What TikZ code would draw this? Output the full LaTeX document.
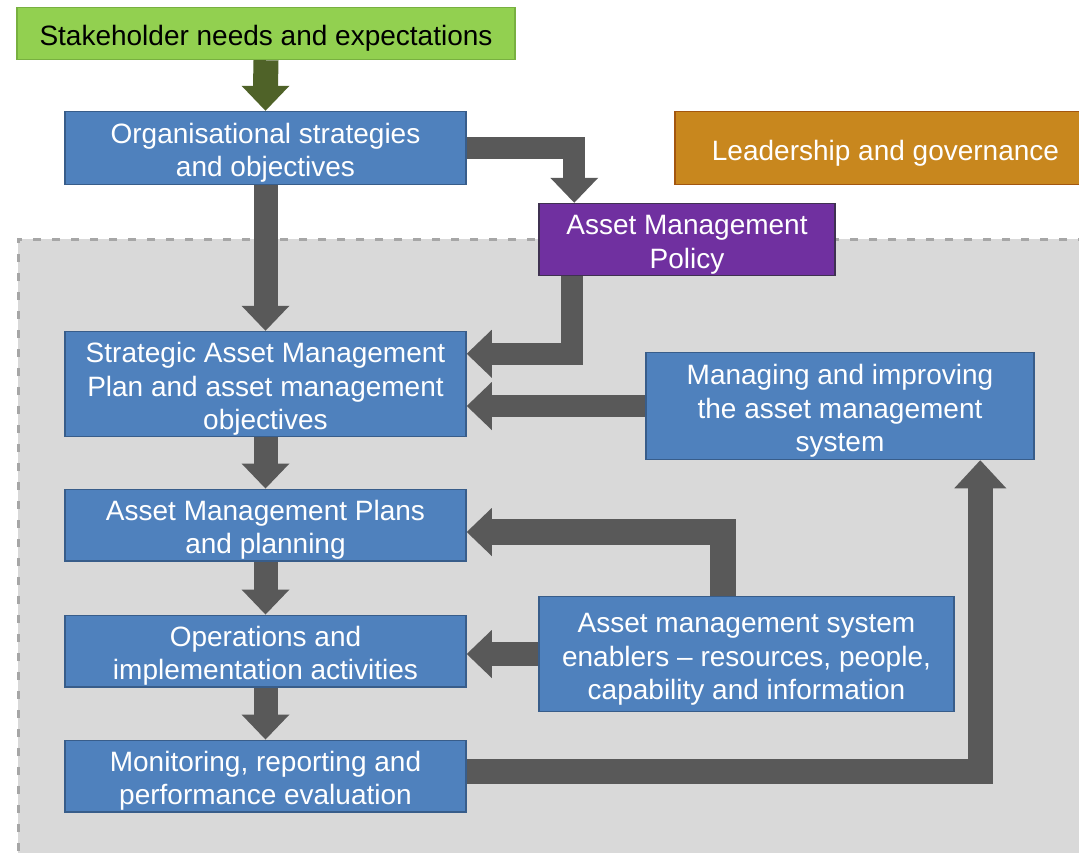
\documentclass[tikz,border=0pt]{standalone}
\usepackage{fontspec}
\setmainfont{Liberation Sans}
\usetikzlibrary{calc}
\definecolor{grfill}{HTML}{92D050}
\definecolor{grline}{HTML}{78B040}
\definecolor{blfill}{HTML}{4F81BD}
\definecolor{blline}{HTML}{385D8A}
\definecolor{orfill}{HTML}{C8871E}
\definecolor{orline}{HTML}{A3560F}
\definecolor{pufill}{HTML}{7030A0}
\definecolor{puline}{HTML}{3F3151}
\definecolor{arcol}{HTML}{595959}
\definecolor{garcol}{HTML}{4F6228}
\definecolor{bgfill}{HTML}{D9D9D9}
\definecolor{bgline}{HTML}{A6A6A6}
\pgfdeclarelayer{bg}
\pgfsetlayers{bg,main}
\newcommand\mystrut{\rule[-7pt]{0pt}{38pt}}
\newcommand\hdD[2][arcol]{\fill[#1] (#2) -- ++(-24,-25) -- ++(48,0) -- cycle;}
\newcommand\hdL[2][arcol]{\fill[#1] (#2) -- ++(25,-24) -- ++(0,48) -- cycle;}
\newcommand\hdU[2][arcol]{\fill[#1] (#2) -- ++(-26,28) -- ++(52,0) -- cycle;}
\begin{document}
\begin{tikzpicture}[x=1pt,y=-1pt,
  box/.style={draw, line width=1.5pt, inner sep=0pt, align=center,
    font=\fontsize{28}{33.5}\selectfont, text=white,
    execute at end node=\mystrut},
  bluebox/.style={box, fill=blfill, draw=blline},
  shaft/.style={draw=arcol, line width=24pt, line cap=butt, line join=miter},
  nshaft/.style={shaft, line width=22pt},
  gshaft/.style={shaft, draw=garcol, line width=25pt}]
\useasboundingbox (0,0) rectangle (1079,852);

\node[box, fill=grfill, draw=grline, text=black, minimum width=498pt, minimum height=52pt] (stake) at (266,33.5) {\mystrut Stakeholder needs and expectations};
\node[bluebox, minimum width=401pt, minimum height=73pt] (org) at (265.5,148) {\mystrut Organisational strategies\\and objectives};
\node[box, fill=orfill, draw=orline, minimum width=421pt, minimum height=73pt] (lead) at (885.5,148) {\mystrut Leadership and governance};
\node[box, fill=pufill, draw=puline, minimum width=296pt, minimum height=72pt] (pol) at (687,239.5) {\mystrut Asset Management\\Policy};
\node[bluebox, minimum width=401pt, minimum height=103pt] (sam) at (265.5,384) {\mystrut Strategic Asset Management\\Plan and asset management\\objectives};
\node[bluebox, minimum width=388pt, minimum height=107pt] (man) at (840,406) {\mystrut Managing and improving\\the asset management\\system};
\node[bluebox, minimum width=401pt, minimum height=69pt] (pl) at (265.5,525) {\mystrut Asset Management Plans\\and planning};
\node[bluebox, minimum width=401pt, minimum height=71pt] (ops) at (265.5,651) {\mystrut Operations and\\implementation activities};
\node[bluebox, minimum width=415pt, minimum height=115pt] (en) at (746.5,654) {\mystrut Asset management system\\enablers -- resources, people,\\capability and information};
\node[bluebox, minimum width=401pt, minimum height=69pt] (mon) at (265.5,776) {\mystrut Monitoring, reporting and\\performance evaluation};

\begin{pgfonlayer}{bg}
\fill[bgfill] (18,239) rectangle (1100,870);
\draw[bgline, line width=3pt, dash pattern=on 8pt off 11pt] (18,870) -- (18,239) -- (1100,239);

% stakeholder -> org
\draw[gshaft] (stake.south) -- ($(org.north)+(0,-24)$);
\hdD[garcol]{org.north}
% org -> sam
\draw[shaft] (org.south) -- ($(sam.north)+(0,-24)$);
\hdD{sam.north}
% org -> policy
\draw[nshaft] (org.east) -| ($(pol.north west)+(36,-24)$);
\hdD{$(pol.north west)+(36,0)$}
% policy -> sam
\draw[nshaft] ($(pol.south west)+(34,0)$) |- ($(sam.north east)+(24,23)$);
\hdL{$(sam.north east)+(0,23)$}
% managing -> sam
\draw[nshaft] (man.west) -- ($(man.west -| sam.east)+(24,0)$);
\hdL{man.west -| sam.east}
% sam -> plans
\draw[shaft] (sam.south) -- ($(pl.north)+(0,-24)$);
\hdD{pl.north}
% plans -> ops
\draw[shaft] (pl.south) -- ($(ops.north)+(0,-24)$);
\hdD{ops.north}
% ops -> mon
\draw[shaft] (ops.south) -- ($(mon.north)+(0,-24)$);
\hdD{mon.north}
% enablers -> plans
\draw[shaft, line width=26pt] ($(en.north west)+(185,0)$) |- ($(pl.east)+(24,7)$);
\hdL{$(pl.east)+(0,7)$}
% enablers -> ops
\draw[shaft] (en.west) -- ($(en.west -| ops.east)+(24,0)$);
\hdL{en.west -| ops.east}
% mon -> managing
\draw[shaft, line width=25pt] ($(mon.east)+(0,-5)$) -| ($(man.south west)+(335,27)$);
\hdU{$(man.south west)+(335,0)$}
\end{pgfonlayer}
\end{tikzpicture}
\end{document}
